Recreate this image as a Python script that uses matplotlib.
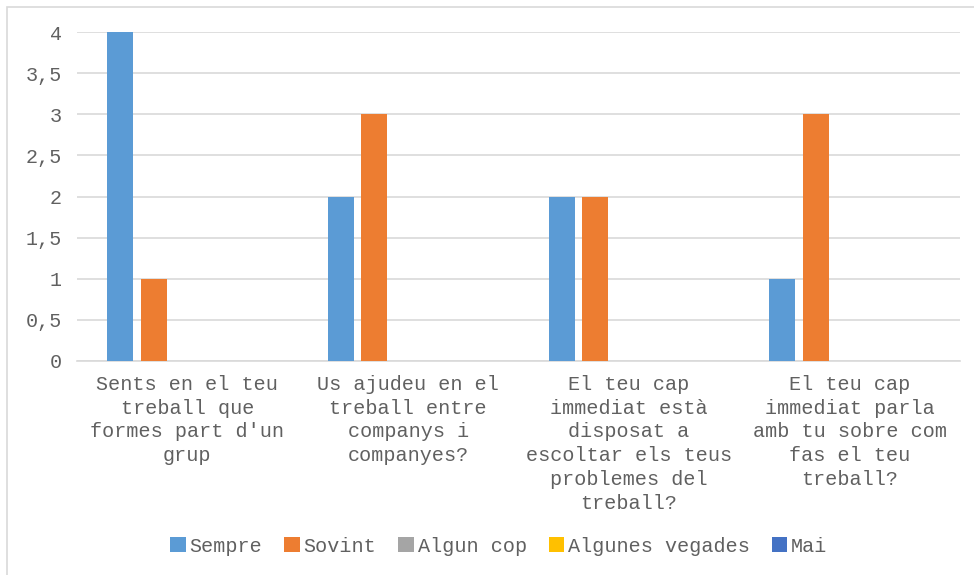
import matplotlib.pyplot as plt
import numpy as np
from matplotlib.patches import Rectangle

categories = [
    "Sents en el teu\ntreball que\nformes part d'un\ngrup",
    "Us ajudeu en el\ntreball entre\ncompanys i\ncompanyes?",
    "El teu cap\nimmediat està\ndisposat a\nescoltar els teus\nproblemes del\ntreball?",
    "El teu cap\nimmediat parla\namb tu sobre com\nfas el teu\ntreball?",
]
series_names = ["Sempre", "Sovint", "Algun cop", "Algunes vegades", "Mai"]
sempre = [4, 2, 2, 1]
sovint = [1, 3, 2, 3]
algun_cop = [0, 0, 0, 0]
algunes_vegades = [0, 0, 0, 0]
mai = [0, 0, 0, 0]
yticks = [0, 0.5, 1, 1.5, 2, 2.5, 3, 3.5, 4]
ytick_labels = ["0", "0,5", "1", "1,5", "2", "2,5", "3", "3,5", "4"]

colors = ["#5B9BD5", "#ED7D31", "#A5A5A5", "#FFC000", "#4472C4"]
text_col = "#606060"
font = "Liberation Mono"
fs = 14.5

W, H = 974, 575
fig = plt.figure(figsize=(W / 100, H / 100), dpi=100)
ax = fig.add_axes([77 / W, (H - 361) / H, (960 - 77) / W, (361 - 32) / H])

# chart border (only left and top visible in the crop)
fig.patches.append(Rectangle((7 / W, -0.1), 1.2, (H - 7) / H + 0.1,
                             transform=fig.transFigure, fill=False,
                             edgecolor="#D9D9D9", lw=1.2))

x = np.arange(len(categories))
pitch = 0.1525
width = 0.118
all_series = [sempre, sovint, algun_cop, algunes_vegades, mai]
for i, (name, vals) in enumerate(zip(series_names, all_series)):
    ax.bar(x + (i - 2) * pitch, vals, width, color=colors[i], label=name,
           zorder=3)

ax.set_xlim(-0.5, len(categories) - 0.5)
ax.set_ylim(0, 4)
ax.set_yticks(yticks)
ax.set_yticklabels(ytick_labels, fontfamily=font, fontsize=fs, color=text_col)
ax.set_xticks(x)
ax.set_xticklabels(categories, fontfamily=font, fontsize=fs, color=text_col,
                   linespacing=1.32)
ax.tick_params(axis="both", length=0)
ax.tick_params(axis="y", pad=11)
ax.tick_params(axis="x", pad=10)
ax.grid(axis="y", color="#D9D9D9", lw=1.2, zorder=0)
for s in ["top", "right", "left"]:
    ax.spines[s].set_visible(False)
ax.spines["bottom"].set_color("#D9D9D9")
ax.spines["bottom"].set_linewidth(1.2)

leg = fig.legend(loc="center", bbox_to_anchor=(499 / W, (H - 546) / H), ncol=5,
                 frameon=False, handlelength=0.75, handleheight=0.75,
                 handletextpad=0.2, columnspacing=1.1,
                 prop={"family": font, "size": fs})
for t in leg.get_texts():
    t.set_color(text_col)

fig.savefig("out.png", dpi=100)
